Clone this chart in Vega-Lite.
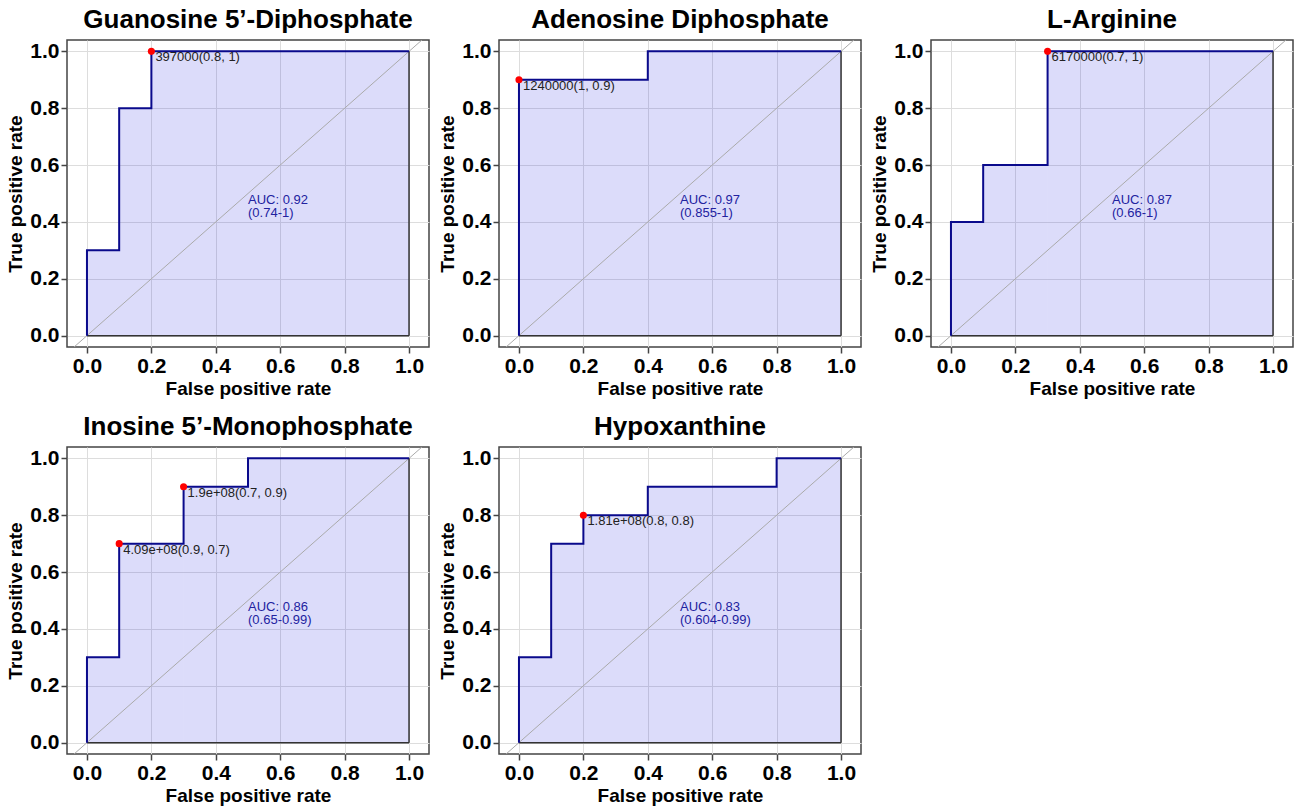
{
  "$schema": "https://vega.github.io/schema/vega-lite/v6.json",
  "background": "white",
  "padding": {"left": 6, "top": 6, "right": 5, "bottom": 2},
  "data": {
    "values": [
      {"panel": "Guanosine 5’-Diphosphate", "kind": "roc", "ord": 0, "fpr": 0, "tpr": 0},
      {"panel": "Guanosine 5’-Diphosphate", "kind": "roc", "ord": 1, "fpr": 0, "tpr": 0.3},
      {"panel": "Guanosine 5’-Diphosphate", "kind": "roc", "ord": 2, "fpr": 0.1, "tpr": 0.3},
      {"panel": "Guanosine 5’-Diphosphate", "kind": "roc", "ord": 3, "fpr": 0.1, "tpr": 0.8},
      {"panel": "Guanosine 5’-Diphosphate", "kind": "roc", "ord": 4, "fpr": 0.2, "tpr": 0.8},
      {"panel": "Guanosine 5’-Diphosphate", "kind": "roc", "ord": 5, "fpr": 0.2, "tpr": 1},
      {"panel": "Guanosine 5’-Diphosphate", "kind": "roc", "ord": 6, "fpr": 1, "tpr": 1},
      {"panel": "Guanosine 5’-Diphosphate", "kind": "seg", "fpr": 0, "fpr_end": 0.1, "tpr": 0.3},
      {"panel": "Guanosine 5’-Diphosphate", "kind": "seg", "fpr": 0.1, "fpr_end": 0.2, "tpr": 0.8},
      {"panel": "Guanosine 5’-Diphosphate", "kind": "seg", "fpr": 0.2, "fpr_end": 1, "tpr": 1},
      {"panel": "Guanosine 5’-Diphosphate", "kind": "pt", "fpr": 0.2, "tpr": 1, "label": "397000(0.8, 1)"},
      {"panel": "Guanosine 5’-Diphosphate", "kind": "auc", "fpr": 0.5, "tpr": 0.5, "label": "AUC: 0.92\n(0.74-1)"},

      {"panel": "Adenosine Diphosphate", "kind": "roc", "ord": 0, "fpr": 0, "tpr": 0},
      {"panel": "Adenosine Diphosphate", "kind": "roc", "ord": 1, "fpr": 0, "tpr": 0.9},
      {"panel": "Adenosine Diphosphate", "kind": "roc", "ord": 2, "fpr": 0.4, "tpr": 0.9},
      {"panel": "Adenosine Diphosphate", "kind": "roc", "ord": 3, "fpr": 0.4, "tpr": 1},
      {"panel": "Adenosine Diphosphate", "kind": "roc", "ord": 4, "fpr": 1, "tpr": 1},
      {"panel": "Adenosine Diphosphate", "kind": "seg", "fpr": 0, "fpr_end": 0.4, "tpr": 0.9},
      {"panel": "Adenosine Diphosphate", "kind": "seg", "fpr": 0.4, "fpr_end": 1, "tpr": 1},
      {"panel": "Adenosine Diphosphate", "kind": "pt", "fpr": 0, "tpr": 0.9, "label": "1240000(1, 0.9)"},
      {"panel": "Adenosine Diphosphate", "kind": "auc", "fpr": 0.5, "tpr": 0.5, "label": "AUC: 0.97\n(0.855-1)"},

      {"panel": "L-Arginine", "kind": "roc", "ord": 0, "fpr": 0, "tpr": 0},
      {"panel": "L-Arginine", "kind": "roc", "ord": 1, "fpr": 0, "tpr": 0.4},
      {"panel": "L-Arginine", "kind": "roc", "ord": 2, "fpr": 0.1, "tpr": 0.4},
      {"panel": "L-Arginine", "kind": "roc", "ord": 3, "fpr": 0.1, "tpr": 0.6},
      {"panel": "L-Arginine", "kind": "roc", "ord": 4, "fpr": 0.3, "tpr": 0.6},
      {"panel": "L-Arginine", "kind": "roc", "ord": 5, "fpr": 0.3, "tpr": 1},
      {"panel": "L-Arginine", "kind": "roc", "ord": 6, "fpr": 1, "tpr": 1},
      {"panel": "L-Arginine", "kind": "seg", "fpr": 0, "fpr_end": 0.1, "tpr": 0.4},
      {"panel": "L-Arginine", "kind": "seg", "fpr": 0.1, "fpr_end": 0.3, "tpr": 0.6},
      {"panel": "L-Arginine", "kind": "seg", "fpr": 0.3, "fpr_end": 1, "tpr": 1},
      {"panel": "L-Arginine", "kind": "pt", "fpr": 0.3, "tpr": 1, "label": "6170000(0.7, 1)"},
      {"panel": "L-Arginine", "kind": "auc", "fpr": 0.5, "tpr": 0.5, "label": "AUC: 0.87\n(0.66-1)"},

      {"panel": "Inosine 5’-Monophosphate", "kind": "roc", "ord": 0, "fpr": 0, "tpr": 0},
      {"panel": "Inosine 5’-Monophosphate", "kind": "roc", "ord": 1, "fpr": 0, "tpr": 0.3},
      {"panel": "Inosine 5’-Monophosphate", "kind": "roc", "ord": 2, "fpr": 0.1, "tpr": 0.3},
      {"panel": "Inosine 5’-Monophosphate", "kind": "roc", "ord": 3, "fpr": 0.1, "tpr": 0.7},
      {"panel": "Inosine 5’-Monophosphate", "kind": "roc", "ord": 4, "fpr": 0.3, "tpr": 0.7},
      {"panel": "Inosine 5’-Monophosphate", "kind": "roc", "ord": 5, "fpr": 0.3, "tpr": 0.9},
      {"panel": "Inosine 5’-Monophosphate", "kind": "roc", "ord": 6, "fpr": 0.5, "tpr": 0.9},
      {"panel": "Inosine 5’-Monophosphate", "kind": "roc", "ord": 7, "fpr": 0.5, "tpr": 1},
      {"panel": "Inosine 5’-Monophosphate", "kind": "roc", "ord": 8, "fpr": 1, "tpr": 1},
      {"panel": "Inosine 5’-Monophosphate", "kind": "seg", "fpr": 0, "fpr_end": 0.1, "tpr": 0.3},
      {"panel": "Inosine 5’-Monophosphate", "kind": "seg", "fpr": 0.1, "fpr_end": 0.3, "tpr": 0.7},
      {"panel": "Inosine 5’-Monophosphate", "kind": "seg", "fpr": 0.3, "fpr_end": 0.5, "tpr": 0.9},
      {"panel": "Inosine 5’-Monophosphate", "kind": "seg", "fpr": 0.5, "fpr_end": 1, "tpr": 1},
      {"panel": "Inosine 5’-Monophosphate", "kind": "pt", "fpr": 0.3, "tpr": 0.9, "label": "1.9e+08(0.7, 0.9)"},
      {"panel": "Inosine 5’-Monophosphate", "kind": "pt", "fpr": 0.1, "tpr": 0.7, "label": "4.09e+08(0.9, 0.7)"},
      {"panel": "Inosine 5’-Monophosphate", "kind": "auc", "fpr": 0.5, "tpr": 0.5, "label": "AUC: 0.86\n(0.65-0.99)"},

      {"panel": "Hypoxanthine", "kind": "roc", "ord": 0, "fpr": 0, "tpr": 0},
      {"panel": "Hypoxanthine", "kind": "roc", "ord": 1, "fpr": 0, "tpr": 0.3},
      {"panel": "Hypoxanthine", "kind": "roc", "ord": 2, "fpr": 0.1, "tpr": 0.3},
      {"panel": "Hypoxanthine", "kind": "roc", "ord": 3, "fpr": 0.1, "tpr": 0.7},
      {"panel": "Hypoxanthine", "kind": "roc", "ord": 4, "fpr": 0.2, "tpr": 0.7},
      {"panel": "Hypoxanthine", "kind": "roc", "ord": 5, "fpr": 0.2, "tpr": 0.8},
      {"panel": "Hypoxanthine", "kind": "roc", "ord": 6, "fpr": 0.4, "tpr": 0.8},
      {"panel": "Hypoxanthine", "kind": "roc", "ord": 7, "fpr": 0.4, "tpr": 0.9},
      {"panel": "Hypoxanthine", "kind": "roc", "ord": 8, "fpr": 0.8, "tpr": 0.9},
      {"panel": "Hypoxanthine", "kind": "roc", "ord": 9, "fpr": 0.8, "tpr": 1},
      {"panel": "Hypoxanthine", "kind": "roc", "ord": 10, "fpr": 1, "tpr": 1},
      {"panel": "Hypoxanthine", "kind": "seg", "fpr": 0, "fpr_end": 0.1, "tpr": 0.3},
      {"panel": "Hypoxanthine", "kind": "seg", "fpr": 0.1, "fpr_end": 0.2, "tpr": 0.7},
      {"panel": "Hypoxanthine", "kind": "seg", "fpr": 0.2, "fpr_end": 0.4, "tpr": 0.8},
      {"panel": "Hypoxanthine", "kind": "seg", "fpr": 0.4, "fpr_end": 0.8, "tpr": 0.9},
      {"panel": "Hypoxanthine", "kind": "seg", "fpr": 0.8, "fpr_end": 1, "tpr": 1},
      {"panel": "Hypoxanthine", "kind": "pt", "fpr": 0.2, "tpr": 0.8, "label": "1.81e+08(0.8, 0.8)"},
      {"panel": "Hypoxanthine", "kind": "auc", "fpr": 0.5, "tpr": 0.5, "label": "AUC: 0.83\n(0.604-0.99)"}
    ]
  },
  "columns": 3,
  "spacing": {"column": 8, "row": 14},
  "facet": {
    "field": "panel",
    "type": "nominal",
    "sort": ["Guanosine 5’-Diphosphate", "Adenosine Diphosphate", "L-Arginine", "Inosine 5’-Monophosphate", "Hypoxanthine"],
    "header": {
      "title": null,
      "labelFont": "Liberation Sans",
      "labelFontSize": 26,
      "labelFontWeight": "bold",
      "labelColor": "black",
      "labelPadding": 7
    }
  },
  "resolve": {"axis": {"x": "independent", "y": "independent"}},
  "spec": {
    "width": 362,
    "height": 307,
    "layer": [
      {
        "transform": [{"filter": "datum.kind == 'seg'"}],
        "mark": {"type": "rect", "color": "#3030e0", "opacity": 0.17},
        "encoding": {
          "x": {
            "field": "fpr", "type": "quantitative",
            "scale": {"domain": [-0.062, 1.062], "nice": false, "zero": false},
            "axis": {
              "title": "False positive rate",
              "values": [0, 0.1, 0.2, 0.3, 0.4, 0.5, 0.6, 0.7, 0.8, 0.9, 1],
              "format": ".1f",
              "labelExpr": "round(datum.value * 10) % 2 == 0 ? datum.label : ''",
              "grid": true, "gridColor": "#dddddd", "gridWidth": 1,
              "domain": false,
              "tickColor": {"condition": {"test": "round(datum.value * 10) % 2 == 0", "value": "#444444"}, "value": "rgba(0,0,0,0)"},
              "tickSize": 6, "tickWidth": 1.5,
              "labelFont": "Liberation Sans", "labelFontSize": 21, "labelFontWeight": "bold", "labelColor": "black",
              "labelPadding": 2, "labelOverlap": false, "labelFlush": false,
              "titleFont": "Liberation Sans", "titleFontSize": 19, "titleFontWeight": "bold", "titleColor": "black", "titlePadding": 3
            }
          },
          "x2": {"field": "fpr_end"},
          "y": {
            "field": "tpr", "type": "quantitative",
            "scale": {"domain": [-0.04, 1.04], "nice": false, "zero": false},
            "axis": {
              "title": "True positive rate",
              "values": [0, 0.1, 0.2, 0.3, 0.4, 0.5, 0.6, 0.7, 0.8, 0.9, 1],
              "format": ".1f",
              "labelExpr": "round(datum.value * 10) % 2 == 0 ? datum.label : ''",
              "grid": true, "gridColor": "#dddddd", "gridWidth": 1,
              "domain": false,
              "tickColor": {"condition": {"test": "round(datum.value * 10) % 2 == 0", "value": "#444444"}, "value": "rgba(0,0,0,0)"},
              "tickSize": 6, "tickWidth": 1.5,
              "labelFont": "Liberation Sans", "labelFontSize": 21, "labelFontWeight": "bold", "labelColor": "black",
              "labelPadding": 2, "labelOverlap": false, "labelFlush": false,
              "titleFont": "Liberation Sans", "titleFontSize": 19, "titleFontWeight": "bold", "titleColor": "black", "titlePadding": 4
            }
          },
          "y2": {"datum": 0}
        }
      },
      {
        "transform": [{"filter": "datum.kind == 'auc'"}],
        "mark": {"type": "rule", "color": "#aaaaaa", "strokeWidth": 1, "clip": true},
        "encoding": {
          "x": {"datum": -0.2, "type": "quantitative"},
          "y": {"datum": -0.2, "type": "quantitative"},
          "x2": {"datum": 1.2},
          "y2": {"datum": 1.2}
        }
      },
      {
        "transform": [{"filter": "datum.kind == 'auc'"}],
        "mark": {"type": "rule", "color": "#333333", "strokeWidth": 1.5},
        "encoding": {
          "x": {"datum": 0, "type": "quantitative"},
          "x2": {"datum": 1},
          "y": {"datum": 0, "type": "quantitative"}
        }
      },
      {
        "transform": [{"filter": "datum.kind == 'auc'"}],
        "mark": {"type": "rule", "color": "#333333", "strokeWidth": 1.5},
        "encoding": {
          "x": {"datum": 1, "type": "quantitative"},
          "y": {"datum": 0, "type": "quantitative"},
          "y2": {"datum": 1}
        }
      },
      {
        "transform": [{"filter": "datum.kind == 'roc'"}],
        "mark": {"type": "line", "color": "#0a0a8c", "strokeWidth": 2},
        "encoding": {
          "x": {"field": "fpr", "type": "quantitative"},
          "y": {"field": "tpr", "type": "quantitative"},
          "order": {"field": "ord", "type": "quantitative"}
        }
      },
      {
        "transform": [{"filter": "datum.kind == 'pt'"}],
        "mark": {"type": "circle", "color": "#ff0000", "opacity": 1, "size": 50},
        "encoding": {
          "x": {"field": "fpr", "type": "quantitative"},
          "y": {"field": "tpr", "type": "quantitative"}
        }
      },
      {
        "transform": [{"filter": "datum.kind == 'pt'"}],
        "mark": {"type": "text", "align": "left", "baseline": "top", "dx": 4, "dy": 0, "font": "Liberation Sans", "fontSize": 13, "color": "#222222"},
        "encoding": {
          "x": {"field": "fpr", "type": "quantitative"},
          "y": {"field": "tpr", "type": "quantitative"},
          "text": {"field": "label"}
        }
      },
      {
        "transform": [{"filter": "datum.kind == 'auc'"}],
        "mark": {"type": "text", "align": "left", "baseline": "top", "lineBreak": "\n", "lineHeight": 13, "font": "Liberation Sans", "fontSize": 13, "color": "#2222a0"},
        "encoding": {
          "x": {"field": "fpr", "type": "quantitative"},
          "y": {"field": "tpr", "type": "quantitative"},
          "text": {"field": "label"}
        }
      }
    ]
  },
  "config": {
    "font": "Liberation Sans",
    "view": {"stroke": "#444444", "strokeWidth": 1.5}
  }
}
